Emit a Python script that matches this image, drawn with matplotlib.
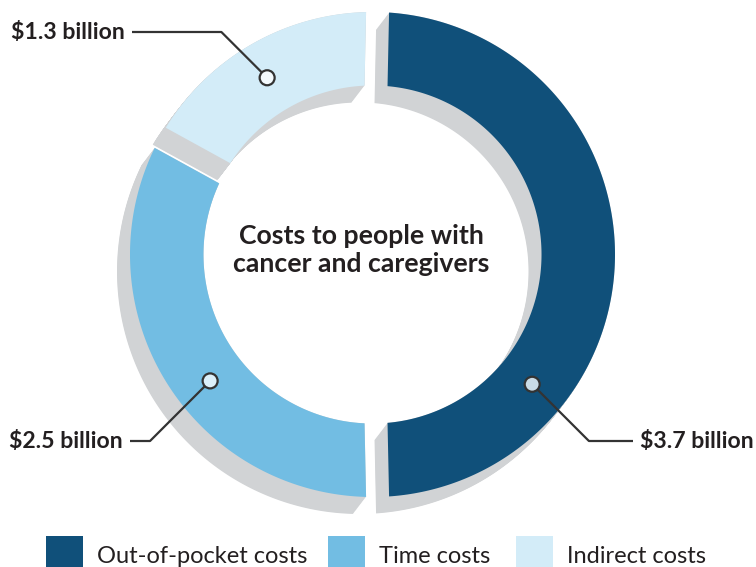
import numpy as np
import matplotlib.pyplot as plt
from matplotlib.patches import Polygon, Rectangle, Circle

# data
categories = ['Out-of-pocket costs', 'Time costs', 'Indirect costs']
costs_billion = [3.7, 2.5, 1.3]
value_labels = ['$3.7 billion', '$2.5 billion', '$1.3 billion']
colors = ['#10507a', '#72bde3', '#d3ecf8']
marker_fill = ['#c9dbe6', '#dcf0fa', '#f4fafd']
title = 'Costs to people with\ncancer and caregivers'

# layout (pixels of the 756x567 canvas)
W, H = 756, 567
CX, CY, SCALE = 372.5, 254.5, 242.5   # ring centre and outer radius in px
R_OUT, R_IN = 1.0, 0.697
HALF_GAP = 11.5 / SCALE
SHADOW = np.array([-13.0, -17.0]) / SCALE
START_ANGLE = 88.8
GRAY = '#d1d3d5'
TEXT = '#231f20'

# marker angle on ring, label side, label line y and text anchor x (px)
marker_angles = [-39.1, -142.1, 120.8]
label_side = [1, -1, -1]
label_y = [441, 441, 32]
label_x = [640, 123, 125]


def px(x, y):
    return (x - CX) / SCALE, (CY - y) / SCALE


def ring_segment(t_from, t_to, dx=0.0, dy=0.0, n=240):
    d_out = np.degrees(np.arcsin(HALF_GAP / R_OUT))
    d_in = np.degrees(np.arcsin(HALF_GAP / R_IN))
    a_out = np.radians(np.linspace(t_from - d_out, t_to + d_out, n))
    a_in = np.radians(np.linspace(t_to + d_in, t_from - d_in, n))
    xs = np.concatenate([R_OUT * np.cos(a_out), R_IN * np.cos(a_in)]) + dx
    ys = np.concatenate([R_OUT * np.sin(a_out), R_IN * np.sin(a_in)]) + dy
    return np.column_stack([xs, ys])


fig = plt.figure(figsize=(W / 100, H / 100), dpi=100)
ax = fig.add_axes([0, 0, 1, 1])
ax.set_xlim(-CX / SCALE, (W - CX) / SCALE)
ax.set_ylim(-(H - CY) / SCALE, CY / SCALE)
ax.axis('off')

shares = np.array(costs_billion) / sum(costs_billion)
bounds = START_ANGLE - 360 * np.concatenate([[0], np.cumsum(shares)])

# extruded grey shadow
for t in np.linspace(0, 1, 30):
    for i in range(len(costs_billion)):
        ax.add_patch(Polygon(ring_segment(bounds[i], bounds[i + 1],
                                          *(t * SHADOW)),
                             closed=True, fc=GRAY, ec='none', zorder=1))

for i in range(len(costs_billion)):
    ax.add_patch(Polygon(ring_segment(bounds[i], bounds[i + 1]),
                         closed=True, fc=colors[i], ec='none', zorder=2))

# markers and leader lines
r_mid = (R_OUT + R_IN) / 2
for i, ang in enumerate(marker_angles):
    mx, my = r_mid * np.cos(np.radians(ang)), r_mid * np.sin(np.radians(ang))
    tx, ly = px(label_x[i], label_y[i])
    ex = mx + label_side[i] * abs(my - ly)
    end = tx - label_side[i] * 7 / SCALE
    ax.plot([mx, ex, end], [my, ly, ly],
            color='#333333', lw=1.6, zorder=3, solid_capstyle='butt')
    ax.add_patch(Circle((mx, my), 7.5 / SCALE, fc=marker_fill[i],
                        ec='#333333', lw=1.6, zorder=4))
    ax.text(tx, ly - 7 / SCALE, value_labels[i],
            ha='left' if label_side[i] > 0 else 'right',
            va='baseline', fontsize=16.6, fontweight='bold', family='Lato',
            color=TEXT, zorder=5)

# centre title
tx, ty = px(361, 250)
ax.text(tx, ty, title, ha='center', va='center', fontsize=19.2,
        fontweight='bold', family='Lato', color=TEXT, linespacing=1.18)

# legend
legend_x = [46, 328, 516]
for i, name in enumerate(categories):
    x0, y0 = px(legend_x[i], 573)
    ax.add_patch(Rectangle((x0, y0), 37 / SCALE, 37 / SCALE, fc=colors[i],
                           ec='none', clip_on=False))
    lx, lyy = px(legend_x[i] + 51, 563)
    ax.text(lx, lyy, name, ha='left', va='baseline', fontsize=17,
            family='Lato', color=TEXT)

fig.savefig('out.png', dpi=100)
